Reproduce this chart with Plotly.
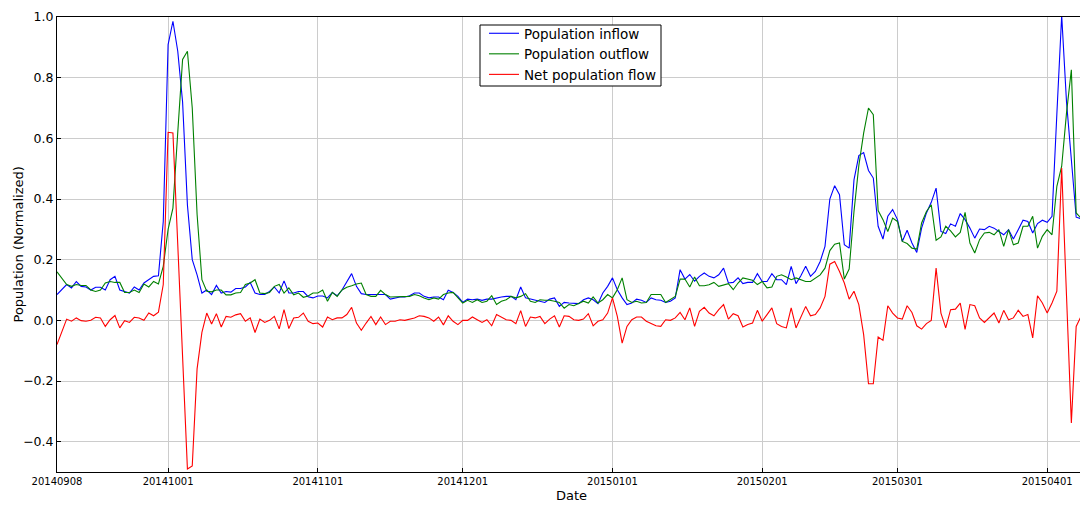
import pandas as pd
import plotly.graph_objects as go

start_date = "2014-09-08"

inflow = [
    0.085, 0.100, 0.118, 0.107, 0.128, 0.112, 0.110, 0.100, 0.109, 0.109,
    0.100, 0.134, 0.145, 0.100, 0.095, 0.090, 0.110, 0.100, 0.123, 0.134,
    0.145, 0.147, 0.326, 0.909, 0.986, 0.887, 0.720, 0.380, 0.200, 0.150,
    0.090, 0.100, 0.085, 0.115, 0.090, 0.095, 0.093, 0.105, 0.105, 0.110,
    0.125, 0.090, 0.085, 0.085, 0.095, 0.110, 0.090, 0.130, 0.090, 0.090,
    0.095, 0.095, 0.078, 0.074, 0.080, 0.080, 0.074, 0.092, 0.081, 0.100,
    0.129, 0.154, 0.112, 0.088, 0.085, 0.085, 0.085, 0.085, 0.085, 0.070,
    0.074, 0.077, 0.077, 0.081, 0.090, 0.090, 0.079, 0.074, 0.077, 0.077,
    0.068, 0.099, 0.092, 0.079, 0.059, 0.070, 0.068, 0.070, 0.066, 0.070,
    0.070, 0.074, 0.077, 0.079, 0.079, 0.068, 0.110, 0.074, 0.070, 0.068,
    0.063, 0.059, 0.070, 0.074, 0.046, 0.059, 0.057, 0.055, 0.055, 0.068,
    0.074, 0.068, 0.055, 0.090, 0.112, 0.140, 0.101, 0.074, 0.052, 0.057,
    0.070, 0.066, 0.059, 0.074, 0.068, 0.066, 0.059, 0.063, 0.074, 0.167,
    0.136, 0.151, 0.129, 0.145, 0.156, 0.145, 0.140, 0.150, 0.172, 0.123,
    0.125, 0.140, 0.121, 0.125, 0.125, 0.154, 0.128, 0.128, 0.154, 0.134,
    0.134, 0.118, 0.178, 0.121, 0.147, 0.178, 0.145, 0.161, 0.194, 0.244,
    0.400, 0.444, 0.414, 0.249, 0.238, 0.463, 0.543, 0.553, 0.494, 0.469,
    0.310, 0.268, 0.343, 0.365, 0.332, 0.260, 0.297, 0.255, 0.224, 0.304,
    0.354, 0.389, 0.436, 0.293, 0.286, 0.318, 0.310, 0.352, 0.332, 0.304,
    0.271, 0.301, 0.299, 0.310, 0.304, 0.293, 0.282, 0.299, 0.268, 0.299,
    0.330, 0.326, 0.288, 0.319, 0.330, 0.323, 0.343, 0.680, 1.005, 0.720,
    0.530, 0.340, 0.335,
]

outflow = [
    0.160, 0.140, 0.118, 0.112, 0.118, 0.115, 0.115, 0.100, 0.095, 0.100,
    0.123, 0.128, 0.125, 0.125, 0.092, 0.092, 0.100, 0.092, 0.120, 0.110,
    0.128, 0.120, 0.178, 0.300, 0.370, 0.620, 0.860, 0.887, 0.700, 0.350,
    0.134, 0.096, 0.094, 0.100, 0.100, 0.084, 0.084, 0.090, 0.092, 0.118,
    0.123, 0.134, 0.090, 0.088, 0.092, 0.112, 0.118, 0.090, 0.107, 0.084,
    0.090, 0.076, 0.080, 0.090, 0.090, 0.100, 0.063, 0.092, 0.079, 0.100,
    0.109, 0.114, 0.120, 0.123, 0.085, 0.079, 0.079, 0.099, 0.085, 0.077,
    0.077, 0.077, 0.077, 0.079, 0.085, 0.081, 0.074, 0.068, 0.074, 0.070,
    0.085, 0.090, 0.092, 0.074, 0.057, 0.066, 0.059, 0.068, 0.059, 0.063,
    0.081, 0.052, 0.063, 0.068, 0.079, 0.074, 0.079, 0.088, 0.063, 0.059,
    0.068, 0.066, 0.066, 0.063, 0.059, 0.040, 0.052, 0.048, 0.055, 0.063,
    0.057, 0.077, 0.057, 0.068, 0.085, 0.074, 0.101, 0.140, 0.068, 0.059,
    0.063, 0.057, 0.059, 0.085, 0.085, 0.085, 0.059, 0.068, 0.079, 0.136,
    0.136, 0.110, 0.143, 0.114, 0.114, 0.117, 0.125, 0.112, 0.117, 0.121,
    0.101, 0.123, 0.140, 0.136, 0.132, 0.118, 0.128, 0.107, 0.110, 0.145,
    0.150, 0.143, 0.134, 0.140, 0.134, 0.128, 0.128, 0.140, 0.150, 0.172,
    0.230, 0.251, 0.255, 0.136, 0.169, 0.359, 0.510, 0.617, 0.700, 0.678,
    0.362, 0.332, 0.293, 0.337, 0.326, 0.260, 0.253, 0.238, 0.235, 0.321,
    0.359, 0.381, 0.264, 0.275, 0.310, 0.295, 0.275, 0.290, 0.356, 0.255,
    0.222, 0.266, 0.288, 0.290, 0.282, 0.299, 0.244, 0.299, 0.249, 0.255,
    0.310, 0.310, 0.343, 0.238, 0.277, 0.299, 0.282, 0.442, 0.508, 0.684,
    0.826, 0.354, 0.337,
]

net_flow = [
    -0.080, -0.040, 0.004, -0.003, 0.008, -0.001, -0.003, 0.000, 0.010, 0.008,
    -0.020, 0.002, 0.016, -0.025, -0.001, -0.007, 0.010, 0.008, 0.000, 0.024,
    0.015, 0.027, 0.118, 0.620, 0.618, 0.250, -0.130, -0.490, -0.480, -0.160,
    -0.040, 0.024, -0.012, 0.022, -0.022, 0.013, 0.010, 0.018, 0.022, -0.003,
    0.008, -0.040, 0.004, -0.007, 0.000, 0.013, -0.028, 0.035, -0.027, 0.008,
    0.010, 0.024, -0.003, -0.011, -0.009, -0.022, 0.011, 0.002, 0.008, 0.008,
    0.019, 0.043, -0.009, -0.033, -0.009, 0.013, -0.014, 0.011, -0.014, -0.003,
    -0.003, 0.002, 0.000, 0.004, 0.008, 0.015, 0.013, 0.008, -0.003, 0.011,
    -0.015, 0.015, -0.003, -0.014, 0.000, 0.000, 0.011, 0.002, -0.007, 0.002,
    -0.018, 0.019, 0.011, 0.002, 0.000, -0.011, 0.032, -0.020, 0.011, 0.008,
    0.013, -0.011, 0.004, 0.015, -0.022, 0.015, 0.013, 0.002, 0.000, 0.004,
    0.022, -0.018, -0.003, 0.002, 0.024, 0.074, 0.013, -0.075, -0.020, 0.002,
    0.011, 0.011, -0.003, -0.011, -0.018, -0.020, 0.002, 0.000, 0.008, 0.026,
    0.002, 0.041, -0.020, 0.030, 0.043, 0.024, 0.015, 0.035, 0.052, 0.004,
    0.022, 0.015, -0.022, -0.014, -0.009, 0.033, -0.003, 0.019, 0.041, -0.011,
    -0.020, -0.025, 0.041, -0.025, 0.008, 0.046, 0.015, 0.019, 0.041, 0.079,
    0.185, 0.194, 0.161, 0.123, 0.070, 0.096, 0.052, -0.047, -0.209, -0.209,
    -0.055, -0.066, 0.048, 0.024, 0.008, 0.004, 0.048, 0.026, -0.018, -0.029,
    -0.011, 0.000, 0.172, 0.024, -0.025, 0.035, 0.037, 0.057, -0.030, 0.052,
    0.048, 0.008, -0.007, 0.008, 0.024, -0.009, 0.033, 0.002, 0.008, 0.033,
    0.013, 0.019, -0.058, 0.081, 0.057, 0.024, 0.057, 0.096, 0.502, 0.080,
    -0.338, -0.020, 0.013,
]

x_tick_labels = ["20140908", "20141001", "20141101", "20141201",
                 "20150101", "20150201", "20150301", "20150401"]
y_tick_values = [-0.4, -0.2, 0.0, 0.2, 0.4, 0.6, 0.8, 1.0]

dates = pd.date_range(start=start_date, periods=len(inflow), freq="D")
tick_dates = [pd.Timestamp(s) for s in x_tick_labels]
x_end = dates[0] + pd.Timedelta(hours=int(211.8 * 24))

fig = go.Figure()
fig.add_trace(go.Scatter(x=dates, y=inflow, mode="lines", name="Population inflow",
                         line=dict(color="#0000ff", width=1.1)))
fig.add_trace(go.Scatter(x=dates, y=outflow, mode="lines", name="Population outflow",
                         line=dict(color="#008000", width=1.1)))
fig.add_trace(go.Scatter(x=dates, y=net_flow, mode="lines", name="Net population flow",
                         line=dict(color="#ff0000", width=1.1)))

font_family = "DejaVu Sans, Bitstream Vera Sans, sans-serif"

W, H = 1080, 507
ML, MR, MT, MB = 57, 0, 17, 35
pw, ph = W - ML - MR, H - MT - MB


def px_to_paper_x(px):
    return (px - ML) / pw


def px_to_paper_y(py):
    return 1 - (py - MT) / ph


fig.update_layout(
    width=W, height=H,
    margin=dict(l=ML, r=MR, t=MT, b=MB, autoexpand=False),
    paper_bgcolor="white", plot_bgcolor="white",
    font=dict(family=font_family, size=12, color="black"),
    showlegend=True,
    legend=dict(x=px_to_paper_x(484), y=px_to_paper_y(18), xanchor="left", yanchor="top",
                bgcolor="rgba(0,0,0,0)", borderwidth=0,
                font=dict(size=13.5), tracegroupgap=0, itemwidth=30),
    shapes=[dict(type="rect", xref="paper", yref="paper",
                 x0=px_to_paper_x(480), x1=px_to_paper_x(661),
                 y0=px_to_paper_y(86), y1=px_to_paper_y(25),
                 fillcolor="white", line=dict(color="black", width=1), layer="above")],
    annotations=[
        dict(text="Population (Normalized)", xref="paper", yref="paper",
             x=px_to_paper_x(17.5), y=px_to_paper_y(245), textangle=-90,
             xanchor="center", yanchor="middle", showarrow=False,
             font=dict(size=13)),
        dict(text="Date", xref="paper", yref="paper",
             x=px_to_paper_x(571), y=px_to_paper_y(495),
             xanchor="center", yanchor="middle", showarrow=False,
             font=dict(size=13)),
    ],
)

fig.update_xaxes(
    range=[dates[0], x_end],
    tickvals=tick_dates, ticktext=x_tick_labels,
    tickfont=dict(size=10),
    showgrid=True, gridcolor="#cccccc", gridwidth=1,
    showline=True, linecolor="black", linewidth=1, mirror=True,
    ticks="inside", ticklen=4, tickcolor="black",
    automargin=False,
)
fig.update_yaxes(
    range=[-0.5, 1.0],
    tickvals=y_tick_values, tickformat=".1f",
    tickfont=dict(size=12.5),
    showgrid=True, gridcolor="#cccccc", gridwidth=1,
    zeroline=False,
    showline=True, linecolor="black", linewidth=1,
    ticks="inside", ticklen=4, tickcolor="black",
    automargin=False,
)

fig.write_html(
    "out.html",
    config={"displayModeBar": False},
    post_script="document.body.style.margin='0';document.body.style.overflow='hidden';",
)
